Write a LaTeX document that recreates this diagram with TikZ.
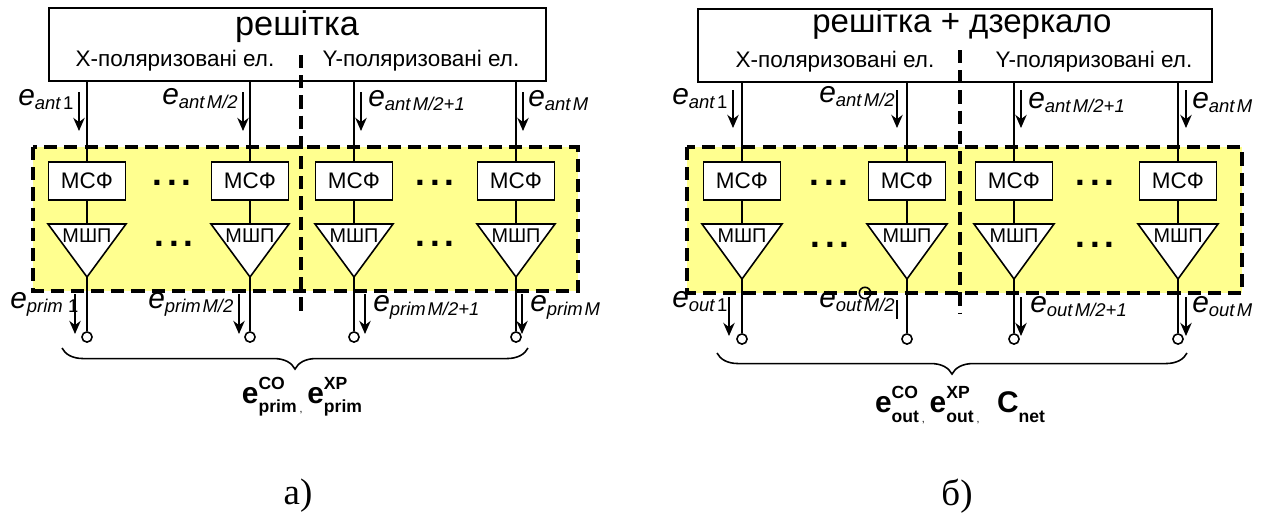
\documentclass[tikz,border=0pt]{standalone}
\usepackage{fontspec}
\setmainfont{Liberation Sans}
\newfontfamily\serifcap{Liberation Serif}
\usetikzlibrary{arrows.meta,decorations.pathreplacing}
\definecolor{panelyellow}{RGB}{255,255,143}
\newcommand{\elab}[2]{{\fontsize{17}{17}\selectfont\textit{e}}\raisebox{-0.5ex}{\fontsize{10.5}{10.5}\selectfont\textit{#1}\kern1pt #2}}
\newcommand{\ebold}[2]{{\fontsize{17}{17}\selectfont\textbf{e}}\rlap{\raisebox{1.5ex}{\fontsize{10}{10}\selectfont\textbf{#2}}}\raisebox{-1ex}{\fontsize{10}{10}\selectfont\textbf{#1}}}
\newcommand{\dotrow}{\textbf{.\kern2.5pt.\kern2.5pt.}}
\tikzset{
  panel/.style={line width=2pt,dash pattern=on 7.5pt off 4pt,fill=panelyellow},
  divider/.style={line width=2pt,dash pattern=on 7.5pt off 4pt},
  wire/.style={line width=0.9pt},
  sig/.style={line width=0.9pt,-{Stealth[length=7.5pt,width=6.5pt]}},
  head/.style={draw,line width=0.9pt,fill=white},
  msf/.style={draw,line width=0.9pt,fill=white,minimum width=44pt,minimum height=21.5pt,inner sep=0pt,font=\fontsize{12.8}{12.8}\selectfont},
  amp/.style={draw,line width=0.9pt,fill=white,line join=miter},
  amptext/.style={inner sep=0pt,font=\fontsize{11.3}{11.3}\selectfont},
  term/.style={circle,draw,line width=0.9pt,fill=white,minimum size=5.8pt,inner sep=0pt},
  dotsnode/.style={inner sep=0pt,font=\fontsize{20}{20}\selectfont},
  pol/.style={inner sep=0pt,font=\fontsize{12.8}{14}\selectfont},
  sublab/.style={anchor=base west,inner sep=0pt},
  curly/.style={line width=0.9pt,decorate,decoration={brace,mirror,amplitude=12pt}}
}
\begin{document}
\begin{tikzpicture}[x=0.02cm,y=-0.02cm]
\useasboundingbox (0,0) rectangle (1262,515);
% panel a
\node[head,minimum width=283pt,minimum height=41.4pt,inner sep=0pt] (arrayA) at (297.5,44.5) {};
\draw[panel] (33,147) rectangle (578,291);
\foreach \x/\n/\ax in {87/a1/79,250/a2/243,354/a3/361,516/a4/523}{
  \coordinate (src\n) at (\x,81);
  \node[msf] (msf\n) at (\x,181) {МСФ};
  \coordinate (tl\n) at (\x-39,224);
  \coordinate (tr\n) at (\x+39,224);
  \coordinate (top\n) at (\x,224);
  \coordinate (apex\n) at (\x,277);
  \draw[amp] (tl\n) -- (tr\n) -- (apex\n) -- cycle;
  \node[amptext] (mshp\n) at (\x,236) {МШП};
  \node[term] (out\n) at (\x,337) {};
  \draw[wire] (src\n) -- (msf\n.north);
  \draw[wire] (msf\n.south) -- (top\n);
  \draw[wire] (apex\n) -- (out\n.north);
  \coordinate (up\n) at (\ax,92);
  \coordinate (ue\n) at (\ax,131);
  \draw[sig] (up\n) -- (ue\n);
}
\foreach \ax/\n in {75/a1,239/a2,365/a3,522/a4}{
  \coordinate (dp\n) at (\ax,294);
  \coordinate (de\n) at (\ax,334);
  \draw[sig] (dp\n) -- (de\n);
}
\coordinate (divAtop) at (301,55);
\coordinate (divAend) at (301,311);
\draw[divider] (divAtop) -- (divAend);
\node at (297,27) [inner sep=0pt,font=\fontsize{19.5}{19.5}\selectfont] (titleA) {решітка};
\node[pol] (polXa) at (175,61) {X-поляризовані ел.};
\node[pol] (polYa) at (421,61) {Y-поляризовані ел.};
\node[dotsnode] (dotsA1) at (172,183) {\dotrow};
\node[dotsnode] (dotsA2) at (435,183) {\dotrow};
\node[dotsnode] (dotsA3) at (174,244) {\dotrow};
\node[dotsnode] (dotsA4) at (435,244) {\dotrow};
\node[sublab] (antA1) at (18,105) {\elab{ant}{1}};
\node[sublab] (antA2) at (162,104) {\elab{ant}{\textit{M/2}}};
\node[sublab] (antA3) at (368,106) {\elab{ant}{\textit{M/2+1}}};
\node[sublab] (antA4) at (528,106) {\elab{ant}{\textit{M}}};
\node[sublab] (primA1) at (10,308) {\elab{prim}{\kern2pt 1}};
\node[sublab] (primA2) at (148,308) {\elab{prim}{\textit{M/2}}};
\node[sublab] (primA3) at (373,311) {\elab{prim}{\textit{M/2+1}}};
\node[sublab] (primA4) at (530,311) {\elab{prim}{\textit{M}}};
\coordinate (brA1) at (62,348);
\coordinate (brA2) at (528,348);
\draw[curly] (brA1) -- (brA2);
\node[inner sep=0pt] (sumA) at (302,397) {\ebold{prim}{CO}\,\raisebox{-1ex}{\fontsize{6}{6}\selectfont,} \ebold{prim}{XP}};
\node[inner sep=0pt,font=\serifcap\fontsize{21}{21}\selectfont] (capA) at (298,496) {а)};
% panel b
\node[head,minimum width=292.5pt,minimum height=41.4pt,inner sep=0pt] (arrayB) at (955,45.5) {};
\draw[panel] (687,147) rectangle (1242,293);
\foreach \x/\n/\ax in {742/b1/733,907/b2/897,1014/b3/1021,1178/b4/1186}{
  \coordinate (src\n) at (\x,82);
  \node[msf] (msf\n) at (\x,181) {МСФ};
  \coordinate (tl\n) at (\x-40,224);
  \coordinate (tr\n) at (\x+40,224);
  \coordinate (top\n) at (\x,224);
  \coordinate (apex\n) at (\x,279);
  \draw[amp] (tl\n) -- (tr\n) -- (apex\n) -- cycle;
  \node[amptext] (mshp\n) at (\x,236) {МШП};
  \node[term] (out\n) at (\x,339) {};
  \draw[wire] (src\n) -- (msf\n.north);
  \draw[wire] (msf\n.south) -- (top\n);
  \draw[wire] (apex\n) -- (out\n.north);
  \coordinate (up\n) at (\ax,90);
  \coordinate (ue\n) at (\ax,128);
  \draw[sig] (up\n) -- (ue\n);
}
\foreach \ax/\n in {729/b1,1021/b3,1186/b4}{
  \coordinate (dp\n) at (\ax,297);
  \coordinate (de\n) at (\ax,336);
  \draw[sig] (dp\n) -- (de\n);
}
\coordinate (dpb2) at (897,300);
\coordinate (deb2) at (897,319);
\draw[wire] (dpb2) -- (deb2);
\node[circle,draw,line width=0.9pt,minimum size=6.5pt,inner sep=0pt] (mark) at (865,293) {};
\coordinate (divBtop) at (960,50);
\coordinate (divBend) at (960,313);
\draw[divider] (divBtop) -- (divBend);
\node at (962,24) [inner sep=0pt,font=\fontsize{18.8}{18.8}\selectfont] (titleB) {решітка + дзеркало};
\node[pol] (polXb) at (835,62) {X-поляризовані ел.};
\node[pol] (polYb) at (1094,62) {Y-поляризовані ел.};
\node[dotsnode] (dotsB1) at (829,183) {\dotrow};
\node[dotsnode] (dotsB2) at (1095,183) {\dotrow};
\node[dotsnode] (dotsB3) at (830,245) {\dotrow};
\node[dotsnode] (dotsB4) at (1095,245) {\dotrow};
\node[sublab] (antB1) at (672,104) {\elab{ant}{1}};
\node[sublab] (antB2) at (819,102) {\elab{ant}{\textit{M/2}}};
\node[sublab] (antB3) at (1028,108) {\elab{ant}{\textit{M/2+1}}};
\node[sublab] (antB4) at (1192,108) {\elab{ant}{\textit{M}}};
\node[sublab] (outB1) at (672,307) {\elab{out}{1}};
\node[sublab] (outB2) at (819,307) {\elab{out}{\textit{M/2}}};
\node[sublab] (outB3) at (1030,312) {\elab{out}{\textit{M/2+1}}};
\node[sublab] (outB4) at (1192,312) {\elab{out}{\textit{M}}};
\coordinate (brB1) at (717,353);
\coordinate (brB2) at (1187,353);
\draw[curly] (brB1) -- (brB2);
\node[inner sep=0pt] (sumB) at (960,405) {\ebold{out}{CO}\,\raisebox{-1ex}{\fontsize{6}{6}\selectfont,} \ebold{out}{XP}\,\raisebox{-1ex}{\fontsize{6}{6}\selectfont,}\quad{\fontsize{17}{17}\selectfont\textbf{C}}\raisebox{-1ex}{\fontsize{10}{10}\selectfont\textbf{net}}};
\node[inner sep=0pt,font=\serifcap\fontsize{21}{21}\selectfont] (capB) at (957,496) {б)};
\end{tikzpicture}
\end{document}
